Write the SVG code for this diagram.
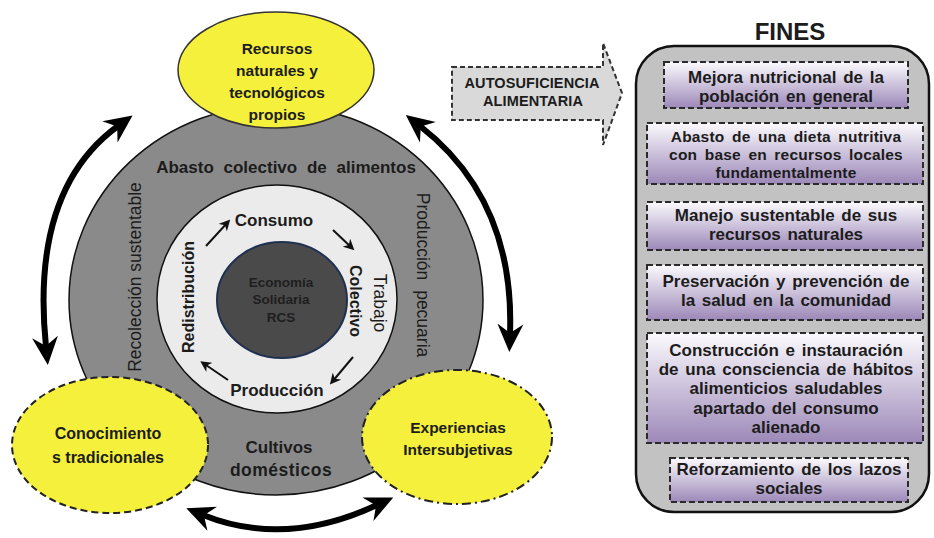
<svg xmlns="http://www.w3.org/2000/svg" width="934" height="538" viewBox="0 0 934 538">
<defs>
<style>
text{font-family:"Liberation Sans",Arial,sans-serif;fill:#1c1c1c;text-anchor:middle;dominant-baseline:central}
.b{font-weight:bold}
.yel{fill:#f5f03c}
.fin{fill:url(#pg);stroke:#2a2a2a;stroke-width:2;stroke-dasharray:6 3}
.fint{font-size:17px;font-weight:bold;word-spacing:2px}
.fint2{font-size:15.5px;font-weight:bold;word-spacing:3px;letter-spacing:0.2px}
.big{fill:none;stroke:#000;stroke-width:6;marker-start:url(#ah);marker-end:url(#ah)}
.sm{fill:none;stroke:#111;stroke-width:2;marker-end:url(#sa)}
</style>
<linearGradient id="pg" x1="0" y1="0" x2="0" y2="1">
<stop offset="0" stop-color="#fbfafd"/>
<stop offset="1" stop-color="#9c88b8"/>
</linearGradient>
<marker id="ah" viewBox="0 0 28 28" markerWidth="28" markerHeight="28" refX="10" refY="14" orient="auto-start-reverse" markerUnits="userSpaceOnUse">
<path d="M0,1 L28,14 L0,27 L9,14 Z" fill="#000"/>
</marker>
<marker id="sa" viewBox="0 0 10 10" markerWidth="11" markerHeight="11" refX="7" refY="5" orient="auto" markerUnits="userSpaceOnUse">
<path d="M0,0 L10,5 L0,10 L3,5 Z" fill="#111"/>
</marker>
</defs>
<rect width="934" height="538" fill="#fff"/>

<g id="ring-outer">
<ellipse cx="276" cy="300" rx="207" ry="195" fill="#8a8a8a" stroke="#111" stroke-width="1.5"/>
<text x="286" y="167" style="font-size:17px;font-weight:600;word-spacing:5px">Abasto colectivo de alimentos</text>
<text transform="translate(135,277) rotate(-90)" style="font-size:17.5px">Recolección sustentable</text>
<text transform="translate(423,275) rotate(90)" style="font-size:17.5px;word-spacing:5px">Producción pecuaria</text>
<text x="279" y="447" style="font-size:17px;font-weight:600">Cultivos</text>
<text x="281" y="470" style="font-size:17.5px;font-weight:600;letter-spacing:0.5px">domésticos</text>
</g>

<g id="ring-inner">
<ellipse cx="277" cy="299" rx="120" ry="114" fill="#ebebeb" stroke="#111" stroke-width="1.5"/>
<text x="274" y="220" class="b" style="font-size:17px">Consumo</text>
<text x="277" y="390" class="b" style="font-size:17px">Producción</text>
<text transform="translate(188,297) rotate(-90)" class="b" style="font-size:16px">Redistribución</text>
<text transform="translate(355,301) rotate(90)" class="b" style="font-size:16px">Colectivo</text>
<text transform="translate(380,303) rotate(90)" style="font-size:17.5px">Trabajo</text>
</g>

<g id="core">
<ellipse cx="282" cy="300" rx="65" ry="58" fill="#4a4a4a" stroke="#1f3050" stroke-width="2"/>
<text x="281" y="282" class="b" style="font-size:13.5px;fill:#1e1e1e">Economía</text>
<text x="281" y="299" class="b" style="font-size:13.5px;fill:#1e1e1e">Solidaria</text>
<text x="281" y="317" class="b" style="font-size:13.5px;fill:#1e1e1e">RCS</text>
</g>

<g id="recursos">
<ellipse cx="276" cy="70" rx="98" ry="58" class="yel" stroke="#333" stroke-width="1.5"/>
<text x="277" y="48" class="b" style="font-size:15.5px">Recursos</text>
<text x="277" y="70" class="b" style="font-size:15.5px">naturales y</text>
<text x="277" y="92" class="b" style="font-size:15.5px">tecnológicos</text>
<text x="277" y="114" class="b" style="font-size:15.5px">propios</text>
</g>

<g id="conocimientos">
<ellipse cx="110" cy="445" rx="98" ry="68" class="yel" stroke="#222" stroke-width="2" stroke-dasharray="7 4"/>
<text x="108" y="433" class="b" style="font-size:16px">Conocimiento</text>
<text x="108" y="457" class="b" style="font-size:16px">s tradicionales</text>
</g>

<g id="experiencias">
<ellipse cx="457" cy="437" rx="95" ry="67" class="yel" stroke="#222" stroke-width="2" stroke-dasharray="9 4 2 4"/>
<text x="458" y="427" class="b" style="font-size:15.5px">Experiencias</text>
<text x="458" y="449" class="b" style="font-size:15.5px">Intersubjetivas</text>
</g>

<g id="autosuficiencia">
<path d="M452,67 H603 V43 L622,93 L603,145 V120 H452 Z" fill="#d9d9d9" stroke="#333" stroke-width="2" stroke-dasharray="5 3"/>
<text x="532" y="83" class="b" style="font-size:14.5px;letter-spacing:0.1px">AUTOSUFICIENCIA</text>
<text x="533" y="101" class="b" style="font-size:14.5px;letter-spacing:0.1px">ALIMENTARIA</text>
</g>

<g id="fines">
<text x="790" y="31" class="b" style="font-size:24px">FINES</text>
<rect x="636" y="46" width="293" height="466" rx="38" fill="#c2c2c2" stroke="#111" stroke-width="2.5"/>
</g>
<g id="fin1">
<rect x="664" y="62" width="244" height="46" class="fin"/>
<text x="786" y="77" class="fint">Mejora nutricional de la</text>
<text x="786" y="96" class="fint">población en general</text>
</g>
<g id="fin2">
<rect x="647" y="123" width="276" height="61" class="fin"/>
<text x="786" y="136" class="fint2">Abasto de una dieta nutritiva</text>
<text x="786" y="154" class="fint2">con base en recursos locales</text>
<text x="786" y="172" class="fint2">fundamentalmente</text>
</g>
<g id="fin3">
<rect x="647" y="202" width="276" height="48" class="fin"/>
<text x="786" y="215" class="fint">Manejo sustentable de sus</text>
<text x="786" y="234" class="fint">recursos naturales</text>
</g>
<g id="fin4">
<rect x="647" y="265" width="276" height="55" class="fin"/>
<text x="786" y="281" class="fint">Preservación y prevención de</text>
<text x="786" y="300" class="fint">la salud en la comunidad</text>
</g>
<g id="fin5">
<rect x="647" y="333" width="276" height="110" class="fin"/>
<text x="786" y="350" class="fint">Construcción e instauración</text>
<text x="786" y="369" class="fint">de una consciencia de hábitos</text>
<text x="786" y="388" class="fint">alimenticios saludables</text>
<text x="786" y="408" class="fint">apartado del consumo</text>
<text x="786" y="427" class="fint">alienado</text>
</g>
<g id="fin6">
<rect x="670" y="458" width="238" height="44" class="fin"/>
<text x="789" y="469" class="fint">Reforzamiento de los lazos</text>
<text x="789" y="488" class="fint">sociales</text>
</g>

<g id="connectors">
<path class="big" d="M46,347 Q30,190 118,126"/>
<path class="big" d="M420,126 Q515,200 510,334"/>
<path class="big" d="M203,515 Q285,548 377,505"/>
<path class="sm" d="M206,246 L228,222"/>
<path class="sm" d="M333,230 L352,248"/>
<path class="sm" d="M353,357 L332,382"/>
<path class="sm" d="M228,380 L203,363"/>
</g>
</svg>
